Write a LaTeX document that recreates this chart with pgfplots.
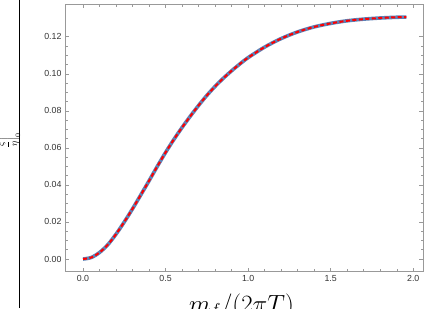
\documentclass[border=0pt]{standalone}
\usepackage{pgfplots}
\pgfplotsset{compat=1.18}
\usepackage{fontspec}
\setmainfont{Liberation Sans}
\definecolor{mmablue}{rgb}{0.368,0.507,0.71}
\pgfplotstableread{
x y
0.000 0.0000
0.050 0.0008
0.100 0.0035
0.150 0.0077
0.200 0.0134
0.250 0.0200
0.300 0.0271
0.350 0.0346
0.400 0.0422
0.450 0.0500
0.500 0.0575
0.550 0.0645
0.600 0.0710
0.650 0.0771
0.700 0.0829
0.750 0.0883
0.800 0.0932
0.850 0.0976
0.900 0.1016
0.950 0.1053
1.000 0.1087
1.100 0.1144
1.200 0.1190
1.300 0.1226
1.400 0.1253
1.500 0.1272
1.600 0.1286
1.700 0.1295
1.800 0.1301
1.900 0.1305
1.958 0.1306
}\curve
\begin{document}
\begin{tikzpicture}[x=1pt,y=1pt]
\path[use as bounding box] (0,0) rectangle (427,308);
\begin{axis}[
  at={(65pt,36.3pt)}, anchor=south west,
  scale only axis, width=358pt, height=267.4pt,
  xmin=-0.109, xmax=2.059, ymin=-0.00686, ymax=0.1375,
  xtick={0,0.5,1,1.5,2}, minor x tick num=4,
  ytick={0,0.02,0.04,0.06,0.08,0.1,0.12}, minor y tick num=3,
  tick align=inside,
  major tick length=4pt, minor tick length=2.5pt,
  every tick/.style={black!40, line width=0.5pt},
  axis line style={black!40, line width=0.6pt},
  /pgf/number format/assume math mode=true,
  xticklabel style={font=\fontsize{8.8}{10}\selectfont, text=black!80, /pgf/number format/.cd, fixed, fixed zerofill, precision=1},
  yticklabel style={font=\fontsize{8.8}{10}\selectfont, text=black!80, /pgf/number format/.cd, fixed, fixed zerofill, precision=2},
  scaled y ticks=false,
  xlabel={$m_f/(2\pi T)$},
  xlabel style={font=\fontsize{23}{25}\selectfont, at={(axis description cs:0.5,0)}, anchor=base, yshift=-40.3pt, xshift=-2.5pt},
  ylabel={$\left.\displaystyle\frac{\xi}{\eta}\right|_0$},
  ylabel style={font=\fontsize{10}{12}\selectfont, at={(axis description cs:0,0.5)}, anchor=center, xshift=-3pt, yshift=57pt},
]
\addplot[mmablue, line width=3.6pt, smooth, tension=0.5] table {\curve};
\addplot[red, line width=2pt, dash pattern=on 4pt off 2.5pt, smooth, tension=0.5] table {\curve};
\end{axis}
\draw[black, line width=1.2pt] (19.8,0) -- (19.8,308);
\end{tikzpicture}
\end{document}
